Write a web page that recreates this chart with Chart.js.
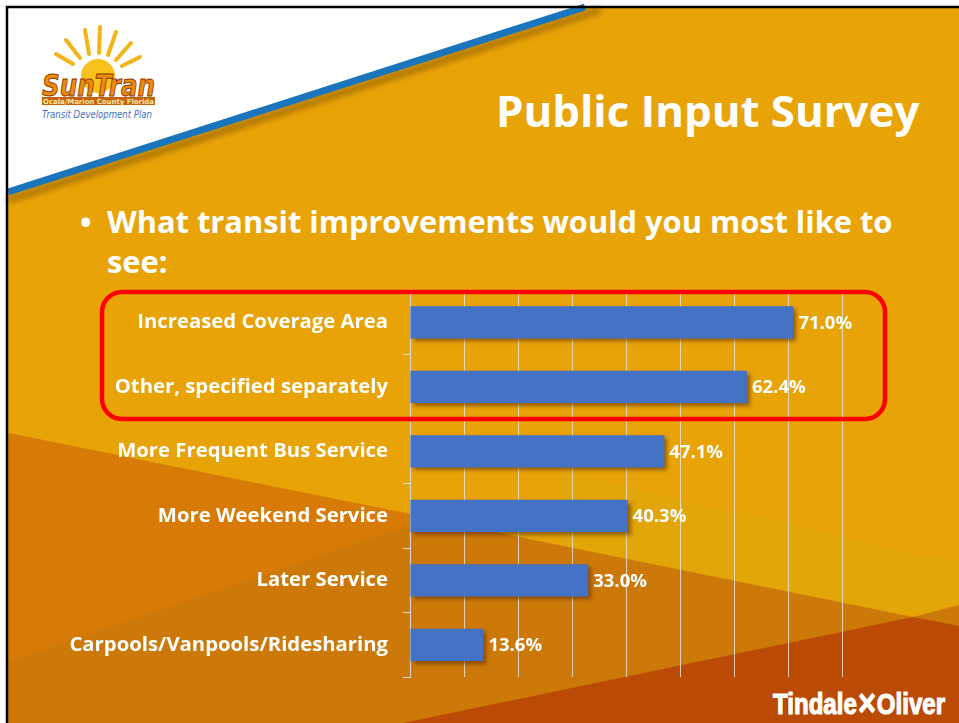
<!DOCTYPE html>
<html>
<head>
<meta charset="utf-8">
<script src="https://cdn.jsdelivr.net/npm/chart.js@4.4.1/dist/chart.umd.min.js"></script>
<style>
  body { margin: 0; width: 959px; height: 723px; overflow: hidden; background: #fff; position: relative; font-family: "Open Sans", Lato, sans-serif; }
  #bg, #chartWrap { position: absolute; left: 0; top: 0; }
  .title { position: absolute; left: 496px; top: 80px; color: #fff; font-weight: bold; font-size: 43.8px; white-space: nowrap; }
  .bullet { position: absolute; left: 80px; top: 201px; color: #fff; font-weight: bold; font-size: 30.8px; line-height: 40px; white-space: nowrap; }
  .bullet span { position: absolute; left: 0; }
  .bullet div { margin-left: 27px; }
</style>
</head>
<body>
<svg id="bg" width="959" height="723">
  <defs>
    <filter id="blur"><feGaussianBlur stdDeviation="3"/></filter>
  </defs>
  <rect width="959" height="723" fill="#fff"/>
  <polygon points="8,194 582,8 959,8 959,723 8,723" fill="#E8A307"/>
  <polygon points="560,472 959,563 959,605 913,617 560,545" fill="#E2A609"/>
  <polygon points="8,433 913,617 959,605 959,723 8,723" fill="#CD7909"/>
  <polygon points="8,433 430,518 8,662" fill="#D87A06"/>
  <polygon points="403,723 913,617 959,626 959,723" fill="#BA4A04"/>
  <line x1="8" y1="200" x2="600" y2="10" stroke="#6b4000" stroke-width="6" opacity="0.55" filter="url(#blur)"/>
  <line x1="8" y1="192" x2="585" y2="7" stroke="#1B75BC" stroke-width="7"/>
  <path d="M7,723 V7 H959" stroke="#000" stroke-width="2.5" fill="none"/>
  <!-- SunTran logo -->
  <g stroke="#F4B416" stroke-width="4" stroke-linecap="round">
    <line x1="80" y1="58" x2="66" y2="40"/>
    <line x1="89" y1="54" x2="85" y2="30"/>
    <line x1="99" y1="53" x2="100" y2="27"/>
    <line x1="108" y1="55" x2="116" y2="32"/>
    <line x1="116" y1="60" x2="131" y2="43"/>
    <line x1="73" y1="64" x2="56" y2="54"/>
    <line x1="122" y1="66" x2="140" y2="57"/>
  </g>
  <circle cx="98" cy="76" r="17" fill="#F8C21C"/>
  <text x="42" y="96" font-family="DejaVu Sans" font-weight="bold" font-style="italic" font-size="30" fill="#F08A0C" stroke="#8B3A00" stroke-width="1" textLength="113" lengthAdjust="spacingAndGlyphs">SunTran</text>
  <rect x="42" y="97" width="113" height="8" fill="#C5620A"/>
  <text x="43" y="104" font-family="DejaVu Sans" font-weight="bold" font-size="7" fill="#FFE8A8" textLength="111" lengthAdjust="spacingAndGlyphs">Ocala/Marion County Florida</text>
  <text x="42" y="118" font-family="DejaVu Sans" font-style="italic" font-size="10" fill="#3C6FC4" textLength="110" lengthAdjust="spacingAndGlyphs">Transit Development Plan</text>
  <!-- Tindale Oliver logo -->
  <text x="773" y="714" font-family="Liberation Sans Narrow, Liberation Sans" font-weight="bold" font-size="30" fill="#fff" stroke="#fff" stroke-width="1.2" textLength="172" lengthAdjust="spacingAndGlyphs">Tindale✕Oliver</text>
</svg>
<div class="title">Public Input Survey</div>
<div class="bullet"><span>•</span><div>What transit improvements would you most like to<br>see:</div></div>
<div id="chartWrap"><canvas id="grafico" width="959" height="723"></canvas></div>
<script>
const categorias = [
  'Increased Coverage Area',
  'Other, specified separately',
  'More Frequent Bus Service',
  'More Weekend Service',
  'Later Service',
  'Carpools/Vanpools/Ridesharing'
];
const percentuais = [71.0, 62.4, 47.1, 40.3, 33.0, 13.6];
const destacados = [0, 1]; // categories inside the red box
const eixoMax = 80;
const eixoPasso = 10;

const grafico = document.getElementById('grafico').getContext('2d');

// bar shadow + value labels + red highlight box
const extrasPlugin = {
  id: 'extras',
  beforeDatasetsDraw(chart) {
    const ctx = chart.ctx;
    ctx.save();
    ctx.shadowColor = 'rgba(90, 45, 0, 0.6)';
    ctx.shadowOffsetX = 3;
    ctx.shadowOffsetY = 3;
    ctx.shadowBlur = 4;
  },
  afterDatasetsDraw(chart) {
    const ctx = chart.ctx;
    ctx.restore();

    const meta = chart.getDatasetMeta(0);
    ctx.save();
    ctx.fillStyle = '#fff';
    ctx.font = 'bold 18.5px "Open Sans"';
    ctx.textAlign = 'left';
    ctx.textBaseline = 'middle';
    meta.data.forEach((bar, i) => {
      ctx.fillText(percentuais[i].toFixed(1) + '%', bar.x + 5, bar.y + 1);
    });
    ctx.restore();

    const y = chart.scales.y;
    const passo = y.getPixelForValue(1) - y.getPixelForValue(0);
    const topo = y.getPixelForValue(destacados[0]) - passo / 2 + 2;
    const base = y.getPixelForValue(destacados[destacados.length - 1]) + passo / 2;
    const esq = 102, dir = 885, r = 20;
    ctx.save();
    ctx.strokeStyle = '#FF0000';
    ctx.lineWidth = 4.5;
    ctx.beginPath();
    ctx.moveTo(esq + r, topo);
    ctx.arcTo(dir, topo, dir, base, r);
    ctx.arcTo(dir, base, esq, base, r);
    ctx.arcTo(esq, base, esq, topo, r);
    ctx.arcTo(esq, topo, dir, topo, r);
    ctx.closePath();
    ctx.stroke();
    ctx.restore();
  }
};

new Chart(grafico, {
  type: 'bar',
  data: {
    labels: categorias,
    datasets: [{
      data: percentuais,
      backgroundColor: '#4472C4',
      barPercentage: 0.5,
      categoryPercentage: 1
    }]
  },
  plugins: [extrasPlugin],
  options: {
    responsive: false,
    animation: false,
    indexAxis: 'y',
    layout: { padding: { left: 0, top: 290, right: 117, bottom: 46 } },
    plugins: { legend: { display: false }, tooltip: { enabled: false } },
    scales: {
      x: {
        min: 0,
        max: eixoMax,
        ticks: { display: false, stepSize: eixoPasso },
        grid: { color: 'rgba(235, 232, 225, 0.8)', drawTicks: false },
        border: { display: false },
        afterFit(s) { s.height = 0; }
      },
      y: {
        ticks: { color: '#fff', font: { family: 'Open Sans', weight: 'bold', size: 20.3 }, padding: 15 },
        grid: { drawOnChartArea: false, tickLength: 7, color: '#D9D9D9', offset: true },
        border: { color: '#D9D9D9' },
        afterFit(s) { s.width = 410; }
      }
    }
  }
});
</script>
</body>
</html>
